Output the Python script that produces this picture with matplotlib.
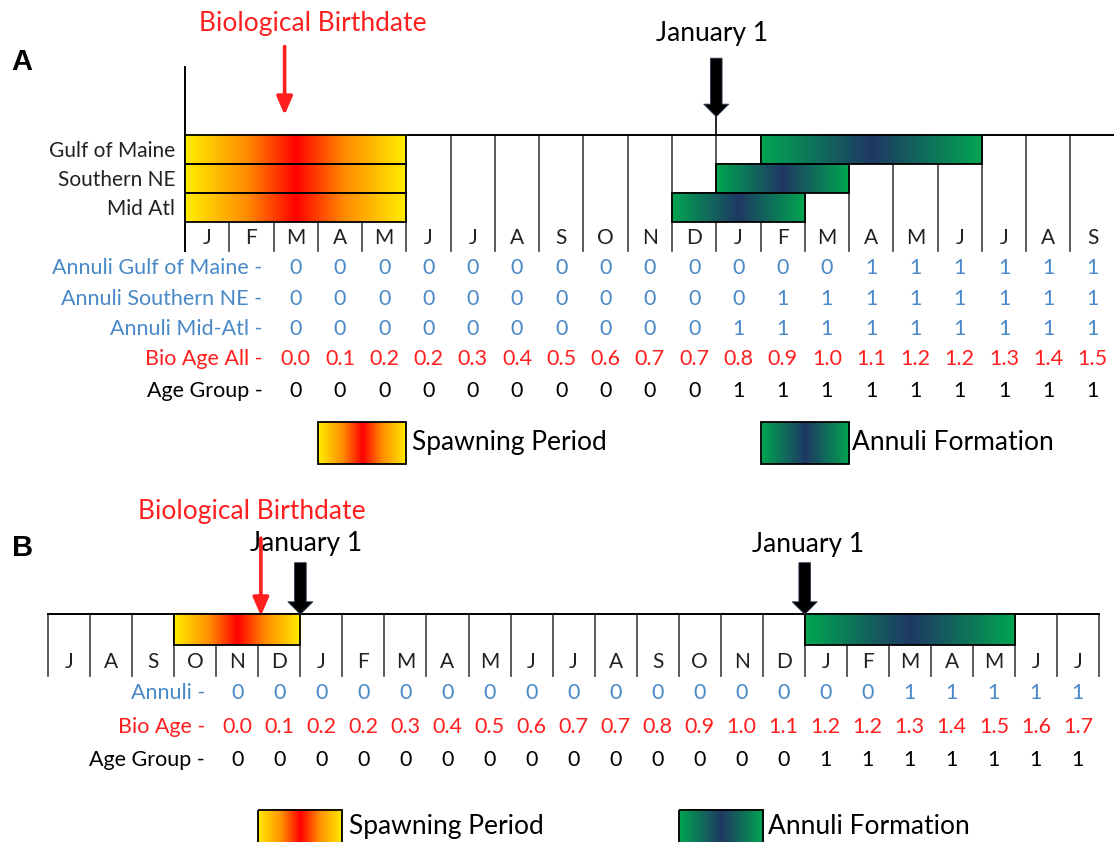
import numpy as np
import matplotlib
matplotlib.use('Agg')
import matplotlib.pyplot as plt
from matplotlib.colors import LinearSegmentedColormap
from matplotlib.patches import Rectangle

plt.rcParams['font.family'] = ['Lato', 'DejaVu Sans']

# ---- panel A data ----
months_a = ['J', 'F', 'M', 'A', 'M', 'J', 'J', 'A', 'S', 'O', 'N',
            'D', 'J', 'F', 'M', 'A', 'M', 'J', 'J', 'A', 'S']
regions_a = ['Gulf of Maine', 'Southern NE', 'Mid Atl']
spawn_start_a = [0, 0, 0]
spawn_end_a = [5, 5, 5]
annuli_start_a = [13, 12, 11]
annuli_end_a = [18, 15, 14]
row_names_a = ['Annuli Gulf of Maine -', 'Annuli Southern NE -',
               'Annuli Mid-Atl -', 'Bio Age All -', 'Age Group -']
annuli_gom_a = [0, 0, 0, 0, 0, 0, 0, 0, 0, 0, 0, 0, 0, 1, 1, 1, 1, 1, 1]
annuli_sne_a = [0, 0, 0, 0, 0, 0, 0, 0, 0, 0, 0, 1, 1, 1, 1, 1, 1, 1, 1]
annuli_mid_a = [0, 0, 0, 0, 0, 0, 0, 0, 0, 0, 1, 1, 1, 1, 1, 1, 1, 1, 1]
bio_age_a = [0.0, 0.1, 0.2, 0.2, 0.3, 0.4, 0.5, 0.6, 0.7, 0.7,
             0.8, 0.9, 1.0, 1.1, 1.2, 1.2, 1.3, 1.4, 1.5]
age_group_a = [0, 0, 0, 0, 0, 0, 0, 0, 0, 0, 1, 1, 1, 1, 1, 1, 1, 1, 1]
first_col_a = 2          # values start under March
birthdate_a = 2.25       # month position of the biological birthdate
jan1_a = [12]

# ---- panel B data ----
months_b = ['J', 'A', 'S', 'O', 'N', 'D', 'J', 'F', 'M', 'A', 'M', 'J', 'J',
            'A', 'S', 'O', 'N', 'D', 'J', 'F', 'M', 'A', 'M', 'J', 'J']
spawn_b = (3, 6)
annuli_b = (18, 23)
row_names_b = ['Annuli -', 'Bio Age -', 'Age Group -']
annuli_vals_b = [0, 0, 0, 0, 0, 0, 0, 0, 0, 0, 0, 0, 0, 0, 0, 0, 1, 1, 1, 1, 1]
bio_age_b = [0.0, 0.1, 0.2, 0.2, 0.3, 0.4, 0.5, 0.6, 0.7, 0.7, 0.8,
             0.9, 1.0, 1.1, 1.2, 1.2, 1.3, 1.4, 1.5, 1.6, 1.7]
age_group_b = [0, 0, 0, 0, 0, 0, 0, 0, 0, 0, 0, 0, 0, 0, 1, 1, 1, 1, 1, 1, 1]
first_col_b = 4          # values start under November
birthdate_b = 5.06
jan1_b = [6, 18]

BLUE = '#4a89c8'
RED = '#ff1f1f'
GRID = '#404040'
BIG = 19
MID = 15
VAL = 15.5

spawn_cmap = LinearSegmentedColormap.from_list(
    'spawn', [(0, '#ffee00'), (0.28, '#ff8c00'), (0.5, '#ff0000'),
              (0.72, '#ff8c00'), (1, '#ffee00')])
annuli_cmap = LinearSegmentedColormap.from_list(
    'annuli', ['#00a651', '#1f3864', '#00a651'])
grad = np.linspace(0, 1, 256).reshape(1, -1)


def grad_bar(ax, x0, x1, y0, y1, cmap):
    ax.imshow(grad, extent=(x0, x1, y1, y0), cmap=cmap, aspect='auto',
              interpolation='bilinear', zorder=3)
    ax.add_patch(Rectangle((x0, y0), x1 - x0, y1 - y0, fill=False,
                           ec='black', lw=1.3, zorder=4))


def red_arrow(ax, x, y0, y1):
    ax.annotate('', xy=(x, y1), xytext=(x, y0),
                arrowprops=dict(arrowstyle='-|>,head_length=0.55,head_width=0.24',
                                color=RED, lw=2.6, mutation_scale=20,
                                shrinkA=0, shrinkB=0), zorder=6)


def black_arrow(ax, x, y0, y1):
    ax.annotate('', xy=(x, y1), xytext=(x, y0),
                arrowprops=dict(arrowstyle='simple,head_length=0.45,head_width=0.9,tail_width=0.42',
                                fc='black', ec='#2f3b4f', lw=0.6, mutation_scale=20,
                                shrinkA=0, shrinkB=0), zorder=6)


def value_rows(ax, first_col, rows, ys, names, colors, label_x, **kw):
    for vals, y, name, c in zip(rows, ys, names, colors):
        ax.text(label_x, y, name, ha='right', va='center', color=c, **kw)
        for j, v in enumerate(vals):
            s = f'{v:.1f}' if isinstance(v, float) else str(v)
            ax.text(first_col + j + 0.5, y, s, ha='center', va='center',
                    color=c, **kw)


fig = plt.figure(figsize=(11.14, 8.42), dpi=100)
axA = fig.add_axes([0, 1 - 475 / 842, 1, 475 / 842])
axB = fig.add_axes([0, 0, 1, 367 / 842])

# ---------------- panel A ----------------
nA = len(months_a)
for i in range(1, nA + 1):
    axA.plot([i, i], [0, 4], color=GRID, lw=1.2, zorder=1)
axA.plot([0, 0], [-2.34, 4], color='black', lw=1.4, zorder=2)
axA.plot([0, nA], [0, 0], color='black', lw=1.4, zorder=2)
for j in jan1_a:
    axA.plot([j, j], [-0.7, 0], color='black', lw=1.2, zorder=2)
    black_arrow(axA, j, -2.64, -0.63)
    axA.text(j - 0.1, -3.49, 'January 1', ha='center', va='center', fontsize=BIG)

for i, m in enumerate(months_a):
    axA.text(i + 0.5, 3.55, m, ha='center', va='center', fontsize=MID,
             color='#222222')

for r, name in enumerate(regions_a):
    grad_bar(axA, spawn_start_a[r], spawn_end_a[r], r, r + 1, spawn_cmap)
    grad_bar(axA, annuli_start_a[r], annuli_end_a[r], r, r + 1, annuli_cmap)
    axA.text(-0.22, r + 0.55, name, ha='right', va='center', fontsize=MID,
             color='#222222')

value_rows(axA, first_col_a,
           [annuli_gom_a, annuli_sne_a, annuli_mid_a, bio_age_a, age_group_a],
           [4.58, 5.65, 6.68, 7.71, 8.79], row_names_a,
           [BLUE, BLUE, BLUE, RED, 'black'], 1.75, fontsize=VAL)

red_arrow(axA, birthdate_a, -3.04, -0.69)
axA.text(2.88, -3.84, 'Biological Birthdate', ha='center', va='center',
         fontsize=BIG, color=RED)
axA.text(-3.68, -2.52, 'A', ha='center', va='center', fontsize=21,
         fontweight='bold', family=['Liberation Sans', 'DejaVu Sans'])

grad_bar(axA, 3, 5, 9.86, 11.3, spawn_cmap)
axA.text(5.13, 10.55, 'Spawning Period', ha='left', va='center', fontsize=BIG)
grad_bar(axA, 13, 15, 9.86, 11.3, annuli_cmap)
axA.text(15.07, 10.55, 'Annuli Formation', ha='left', va='center', fontsize=BIG)

axA.set_xlim(-185 / 44.27, (1114 - 185) / 44.27)
axA.set_ylim((475 - 135) / 29.1, -135 / 29.1)
axA.axis('off')

# ---------------- panel B ----------------
nB = len(months_b)
for i in range(0, nB + 1):
    axB.plot([i, i], [0, 2], color=GRID, lw=1.2, zorder=1)
axB.plot([0, nB], [0, 0], color='black', lw=1.4, zorder=2)

for i, m in enumerate(months_b):
    axB.text(i + 0.5, 1.57, m, ha='center', va='center', fontsize=MID,
             color='#222222')

grad_bar(axB, spawn_b[0], spawn_b[1], 0, 1, spawn_cmap)
grad_bar(axB, annuli_b[0], annuli_b[1], 0, 1, annuli_cmap)

for j in jan1_b:
    black_arrow(axB, j, -1.68, 0.0)
axB.text(6.13, -2.31, 'January 1', ha='center', va='center', fontsize=BIG)
axB.text(18.09, -2.26, 'January 1', ha='center', va='center', fontsize=BIG)

red_arrow(axB, birthdate_b, -2.48, 0.05)
axB.text(4.85, -3.34, 'Biological Birthdate', ha='center', va='center',
         fontsize=BIG, color=RED)
axB.text(-0.62, -2.16, 'B', ha='center', va='center', fontsize=21,
         fontweight='bold', family=['Liberation Sans', 'DejaVu Sans'])

value_rows(axB, first_col_b, [annuli_vals_b, bio_age_b, age_group_b],
           [2.56, 3.66, 4.75], row_names_b, [BLUE, RED, 'black'], 3.73,
           fontsize=VAL)

grad_bar(axB, 5, 7, 6.37, 7.74, spawn_cmap)
axB.text(7.16, 6.92, 'Spawning Period', ha='left', va='center', fontsize=BIG)
grad_bar(axB, 15, 17, 6.37, 7.74, annuli_cmap)
axB.text(17.13, 6.92, 'Annuli Formation', ha='left', va='center', fontsize=BIG)

axB.set_xlim(-48.2 / 42.03, (1114 - 48.2) / 42.03)
axB.set_ylim((842 - 614.3) / 30.7, (475 - 614.3) / 30.7)
axB.axis('off')

fig.savefig('out.png', dpi=100)
